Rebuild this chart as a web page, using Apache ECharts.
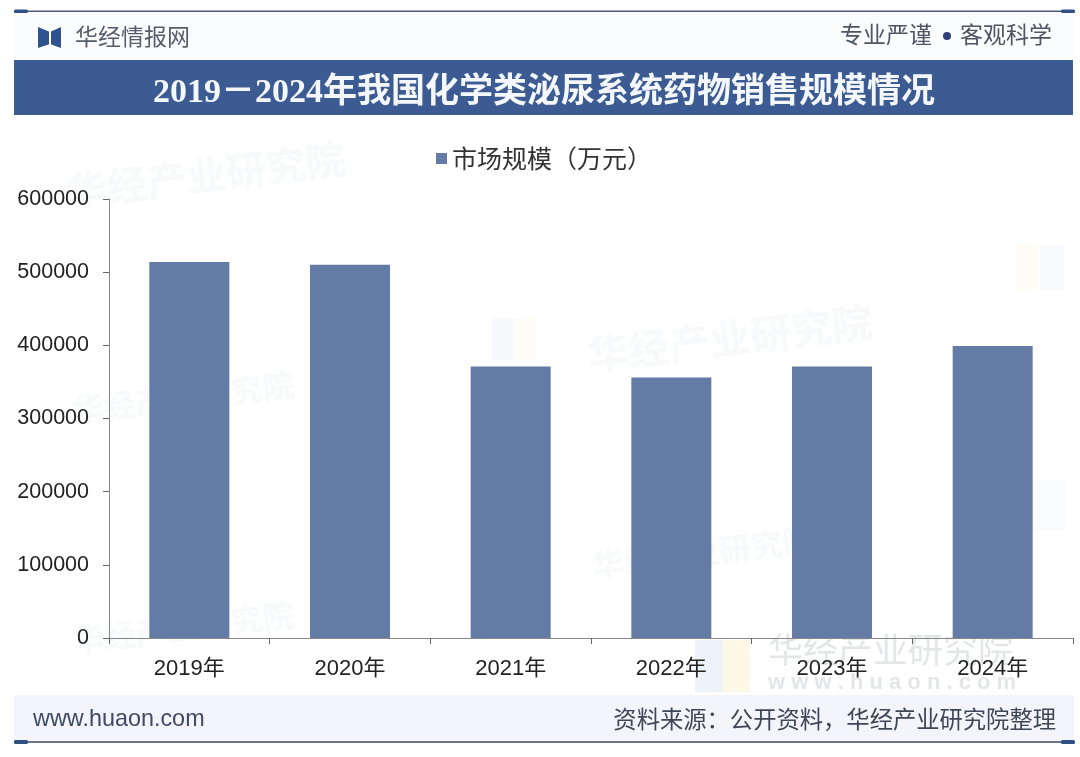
<!DOCTYPE html>
<html><head><meta charset="utf-8">
<style>html,body{margin:0;padding:0;background:#fff}#c{width:1080px;height:757px}</style>
<script src="https://cdn.jsdelivr.net/npm/echarts@6/dist/echarts.min.js"></script>
</head><body><div id="c"></div>
<script>
const categories = ['2019年','2020年','2021年','2022年','2023年','2024年'];
const seriesName = '市场规模（万元）';
const marketSize = [514000, 510000, 371000, 356000, 371000, 399000];
const titleText = '2019－2024年我国化学类泌尿系统药物销售规模情况';
const sourceText = '资料来源：公开资料，华经产业研究院整理';
const cjk = '"Noto Sans CJK SC"';
const chart = echarts.init(document.getElementById('c'));
function wm(x, y, size, rot) {
  return {type:'text', x, y, rotation:rot, z:0, style:{text:'华经产业研究院', font:'bold '+size+'px '+cjk, fill:'rgba(150,165,190,0.07)'}};
}
function blob(x, y, w, h, color) {
  return {type:'rect', z:0, shape:{x, y, width:w, height:h}, style:{fill:color, shadowBlur:12, shadowColor:color}};
}
chart.setOption({
  animation:false,
  backgroundColor:'#fff',
  grid:{left:109,right:7,top:199,bottom:119,containLabel:false},
  legend:{top:141,left:431,itemWidth:11,itemHeight:11,itemGap:6,icon:'rect',
    textStyle:{fontFamily:cjk,fontSize:25,color:'#333'},data:[seriesName]},
  xAxis:{type:'category',data:categories,
    axisLine:{lineStyle:{color:'#888',width:1}},
    axisTick:{show:true,length:6,alignWithLabel:false,lineStyle:{color:'#666'}},
    axisLabel:{fontFamily:'"Liberation Sans",'+cjk,fontSize:22,color:'#222',margin:20}},
  yAxis:{type:'value',min:0,max:600000,interval:100000,
    axisLine:{show:true,lineStyle:{color:'#888',width:1}},
    axisTick:{show:true,length:6,lineStyle:{color:'#666'}},
    splitLine:{show:false},
    axisLabel:{fontFamily:'"Liberation Sans"',fontSize:21.5,color:'#222',margin:20,
      formatter:function(v){return String(v);}}},
  series:[{name:seriesName,type:'bar',data:marketSize,barWidth:80,itemStyle:{color:'#647ca5'},z:3}],
  graphic:[
    {type:'rect',z:-2,shape:{x:14,y:12,width:1060,height:48},style:{fill:'#fbfcfe'}},
    {type:'rect',z:-2,shape:{x:14,y:695,width:1060,height:46},style:{fill:'#f3f5fa'}},
    {type:'rect',z:5,shape:{x:14,y:10.5,width:1060,height:1.5},style:{fill:'#4b5a78'}},
    {type:'rect',z:5,shape:{x:14,y:9.5,width:14,height:3.5,r:1.5},style:{fill:'#2f4f85'}},
    {type:'rect',z:5,shape:{x:1061,y:9.5,width:14,height:3.5,r:1.5},style:{fill:'#2f4f85'}},
    {type:'rect',z:5,shape:{x:14,y:741,width:1060,height:2},style:{fill:'#6a7484'}},
    {type:'rect',z:5,shape:{x:14,y:740,width:14,height:4,r:1.5},style:{fill:'#2f4f85'}},
    {type:'rect',z:5,shape:{x:1061,y:740,width:14,height:4,r:1.5},style:{fill:'#2f4f85'}},
    {type:'polygon',z:5,shape:{points:[[38,27],[50,32],[50,44],[38,48]]},style:{fill:'#2f5391'}},
    {type:'polygon',z:5,shape:{points:[[61,27],[50,32],[50,44],[61,48]]},style:{fill:'#2f5391'}},
    {type:'line',z:6,shape:{x1:50,y1:30,x2:50,y2:46},style:{stroke:'#fff',lineWidth:2}},
    {type:'text',z:5,x:75,y:25,style:{text:'华经情报网',font:'23px '+cjk,fill:'#555c6a'}},
    {type:'text',z:5,x:840,y:23,style:{text:'专业严谨',font:'23px '+cjk,fill:'#4f5564'}},
    {type:'circle',z:5,shape:{cx:947,cy:36,r:4},style:{fill:'#2f4078'}},
    {type:'text',z:5,x:960,y:23,style:{text:'客观科学',font:'23px '+cjk,fill:'#4f5564'}},
    {type:'rect',z:4,shape:{x:14,y:60,width:1059,height:55},style:{fill:'#3b5b92'}},
    {type:'text',z:5,x:544,y:76,style:{text:titleText,font:'bold 34px "Liberation Serif",'+cjk,fill:'#f4f7fb',align:'center'}},
    {type:'text',z:5,x:33,y:708,style:{text:'www.huaon.com',font:'23.4px "Liberation Sans"',fill:'#3f4a68'}},
    {type:'text',z:5,x:1056,y:707,style:{text:sourceText,font:'23.3px '+cjk,fill:'#3f4656',align:'right'}},
    wm(65,172,40,0.12),
    wm(585,335,41,0.12),
    wm(70,395,32,0.12),
    wm(590,550,32,0.12),
    wm(70,625,32,0.12),
    blob(492,318,22,42,'rgba(90,140,210,0.05)'),
    blob(514,318,22,42,'rgba(240,205,90,0.05)'),
    blob(1016,245,22,45,'rgba(240,205,90,0.06)'),
    blob(1040,245,24,45,'rgba(90,140,210,0.04)'),
    blob(1035,480,30,50,'rgba(90,140,210,0.03)'),
    blob(695,640,27,52,'rgba(90,140,210,0.10)'),
    blob(722,640,28,52,'rgba(240,205,90,0.14)'),
    {type:'text',z:0,x:768,y:632,style:{text:'华经产业研究院',font:'35px '+cjk,fill:'rgba(140,145,155,0.24)'}},
    {type:'text',z:0,x:768,y:672,style:{text:'w w w . h u a o n . c o m',font:'bold 22px "Liberation Sans"',fill:'rgba(140,145,155,0.24)'}}
  ]
});
</script></body></html>
